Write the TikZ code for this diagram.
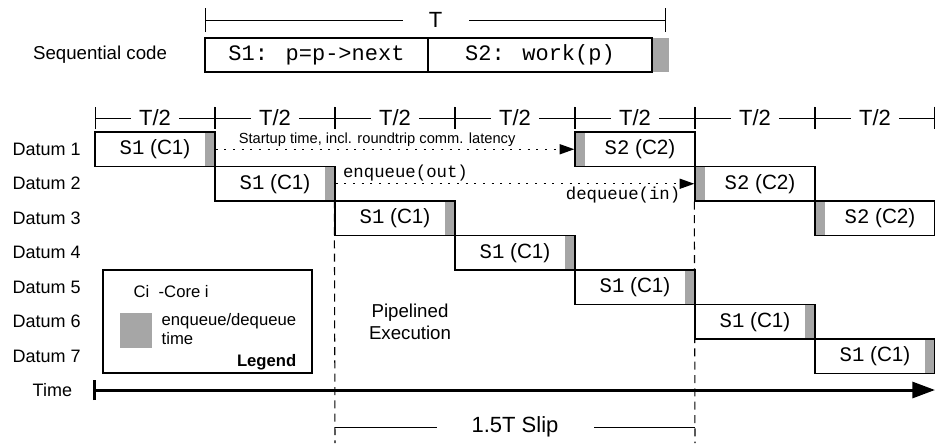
\documentclass[tikz,border=0pt]{standalone}
\usepackage{fontspec}
\setmainfont{Liberation Sans}
\newfontfamily\codefont{Liberation Mono}
\usepackage{xcolor}
\usetikzlibrary{arrows.meta, backgrounds}
\definecolor{qgray}{RGB}{166,166,166}
\newcommand{\sone}{{\codefont S1} (C1)\hspace{7.5pt}}
\newcommand{\stwo}{\hspace{7.5pt}{\codefont S2} (C2)}

\tikzset{
  stagebox/.style={draw, line width=1pt, fill=white, minimum width=90pt, minimum height=25.875pt, inner sep=0pt, font=\fontsize{15.5}{18}\selectfont},
  sonebox/.style={stagebox, path picture={\fill[qgray] ([xshift=-7.5pt]path picture bounding box.north east) rectangle (path picture bounding box.south east);}},
  stwobox/.style={stagebox, path picture={\fill[qgray] (path picture bounding box.north west) rectangle ([xshift=7.5pt]path picture bounding box.south west);}},
  codebox/.style={draw, line width=1pt, fill=white, minimum height=25.5pt, inner sep=0pt, font=\codefont\fontsize{16.5}{19}\selectfont},
  qbar/.style={fill=qgray, inner sep=0pt, minimum height=25.5pt},
  rowlbl/.style={anchor=west, font=\fontsize{13.5}{16}\selectfont},
  legfont/.style={font=\fontsize{12.5}{14.25}\selectfont},
  dimline/.style={line width=0.75pt, {Bar[width=18pt]}-{Bar[width=18pt]}},
  halftext/.style={fill=white, inner sep=0pt, minimum width=36pt, minimum height=15pt, font=\fontsize{16.5}{19}\selectfont},
  commarrow/.style={line width=1.1pt, dash pattern=on 1.5pt off 5pt, -{Triangle[length=11pt, width=7.5pt]}},
  slipdash/.style={line width=0.8pt, dash pattern=on 6pt off 4pt}
}

\begin{document}
\begin{tikzpicture}[x=0.75pt, y=-0.75pt]
  \useasboundingbox (0,0) rectangle (935,443);

  %% Sequential code and T
  \coordinate (Tl) at (205,20);
  \coordinate (Tr) at (666,20);
  \draw[dimline] (Tl) -- node[halftext, minimum width=49.5pt] (Tlbl) {T} (Tr);
  \node[anchor=center, font=\fontsize{14}{16}\selectfont] (seqlbl) at (100,55) {Sequential code};
  \node[qbar, minimum width=12.75pt] (qtop) at (660.5,55) {};
  \node[codebox, minimum width=167.25pt] (code1) at (316.5,55) {S1: p=p->next};
  \node[codebox, minimum width=168pt] (code2) at (540,55) {S2: work(p)};

  %% T/2 ruler
  \coordinate (h0) at (95,118);
  \coordinate (h1) at (215,118);
  \coordinate (h2) at (335,118);
  \coordinate (h3) at (455,118);
  \coordinate (h4) at (575,118);
  \coordinate (h5) at (695,118);
  \coordinate (h6) at (815,118);
  \coordinate (h7) at (935,118);
  \draw[dimline, {Bar[width=17pt]}-{Bar[width=17pt]}] (h0) -- node[halftext] (hl1) {T/2} (h1);
  \draw[dimline, {Bar[width=17pt]}-{Bar[width=17pt]}] (h1) -- node[halftext] (hl2) {T/2} (h2);
  \draw[dimline, {Bar[width=17pt]}-{Bar[width=17pt]}] (h2) -- node[halftext] (hl3) {T/2} (h3);
  \draw[dimline, {Bar[width=17pt]}-{Bar[width=17pt]}] (h3) -- node[halftext] (hl4) {T/2} (h4);
  \draw[dimline, {Bar[width=17pt]}-{Bar[width=17pt]}] (h4) -- node[halftext] (hl5) {T/2} (h5);
  \draw[dimline, {Bar[width=17pt]}-{Bar[width=17pt]}] (h5) -- node[halftext] (hl6) {T/2} (h6);
  \draw[dimline, {Bar[width=17pt]}-{Bar[width=17pt]}] (h6) -- node[halftext] (hl7) {T/2} (h7);

  %% Datum rows
  \node[rowlbl] (dat1) at (8,149.25) {Datum 1};
  \node[rowlbl] (dat2) at (8,183.75) {Datum 2};
  \node[rowlbl] (dat3) at (8,218.25) {Datum 3};
  \node[rowlbl] (dat4) at (8,252.75) {Datum 4};
  \node[rowlbl] (dat5) at (8,287.25) {Datum 5};
  \node[rowlbl] (dat6) at (8,321.75) {Datum 6};
  \node[rowlbl] (dat7) at (8,356.25) {Datum 7};

  \node[sonebox] (s1d1) at (155,149.25) {\sone};
  \node[sonebox] (s1d2) at (275,183.75) {\sone};
  \node[sonebox] (s1d3) at (395,218.25) {\sone};
  \node[sonebox] (s1d4) at (515,252.75) {\sone};
  \node[sonebox] (s1d5) at (635,287.25) {\sone};
  \node[sonebox] (s1d6) at (755,321.75) {\sone};
  \node[sonebox] (s1d7) at (875,356.25) {\sone};
  \node[stwobox] (s2d1) at (635,149.25) {\stwo};
  \node[stwobox] (s2d2) at (755,183.75) {\stwo};
  \node[stwobox] (s2d3) at (875,218.25) {\stwo};

  %% Communication
  \draw[commarrow] (s1d1.east) -- node[pos=0.45, above, inner sep=1.5pt, font=\fontsize{11}{13}\selectfont] (startlbl) {Startup time, incl. roundtrip comm. latency} (s2d1.west);
  \draw[commarrow] (s1d2.east) -- node[pos=0, above right, inner xsep=5pt, inner ysep=1.5pt, font=\codefont\fontsize{13}{15}\selectfont] (enqlbl) {enqueue(out)}
    node[pos=1, below left, inner xsep=10pt, inner ysep=1.5pt, font=\codefont\fontsize{13}{15}\selectfont] (deqlbl) {dequeue(in)} (s2d2.west);

  %% Slip
  \coordinate (slipbotL) at (335,443);
  \coordinate (slipbotR) at (695,443);
  \begin{scope}[on background layer]
    \draw[slipdash] (s1d3.north west) -- (slipbotL);
    \draw[slipdash] (s2d2.south west) -- (slipbotR);
  \end{scope}
  \node[align=center, font=\fontsize{14}{16.5}\selectfont] (pipe) at (410,322) {Pipelined\\Execution};
  \coordinate (slipL) at (335,427);
  \coordinate (slipR) at (695,427);
  \draw[line width=0.75pt] (slipL) -- node[fill=white, inner sep=0pt, minimum width=117.75pt, minimum height=18pt, font=\fontsize{16.5}{19}\selectfont] (sliplbl) {1.5T Slip} (slipR);

  %% Legend
  \node[draw, line width=0.9pt, minimum width=156.75pt, minimum height=77.25pt, inner sep=0pt] (legend) at (207.5,321.5) {};
  \node[anchor=west, legfont] (legci) at (129,292) {Ci~~-Core i};
  \node[qbar, minimum width=24pt, minimum height=26.25pt] (legq) at (136,330.5) {};
  \node[anchor=west, align=left, legfont] (legtxt) at (157,329.5) {enqueue/dequeue\\time};
  \node[anchor=east, font=\fontsize{12.5}{14.25}\selectfont\bfseries] (legtitle) at (301,362) {Legend};

  %% Time axis
  \node[rowlbl] (timelbl) at (28,390) {Time};
  \coordinate (t0) at (93,390);
  \coordinate (t1) at (935,390);
  \draw[line width=2.25pt, {Bar[width=15pt]}-{Triangle[length=17pt, width=12pt]}] (t0) -- (t1);
\end{tikzpicture}
\end{document}
